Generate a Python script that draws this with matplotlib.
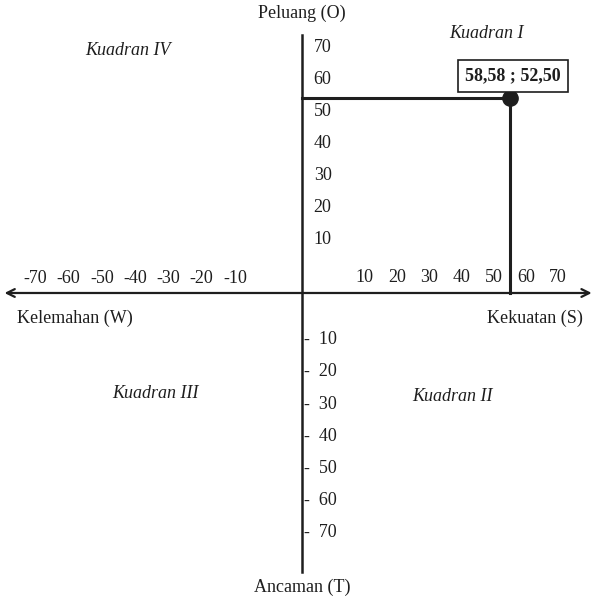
"""
SWOT quadrant diagram (Kuadran I - IV) with the position point.
"""

import matplotlib.pyplot as plt

# ----------------------------- DATA -----------------------------
point_x = 58.58          # Kekuatan - Kelemahan
point_y = 52.50          # Peluang - Ancaman
point_label = "58,58 ; 52,50"

tick_values = [10, 20, 30, 40, 50, 60, 70]
axis_titles = {"top": "Peluang (O)", "bottom": "Ancaman (T)",
               "left": "Kelemahan (W)", "right": "Kekuatan (S)"}
quadrants = ["Kuadran I", "Kuadran II", "Kuadran III", "Kuadran IV"]
# ----------------------------------------------------------------

INK = "#1e1e1e"
plt.rcParams["font.family"] = ["Liberation Serif", "DejaVu Serif"]
plt.rcParams["font.size"] = 13

fig = plt.figure(figsize=(5.93, 6.03), dpi=100)
ax = fig.add_axes([0, 0, 1, 1])
# origin placed where the axes cross in the drawing
ax.set_xlim(-85.07, 81.97)
ax.set_ylim(-83.47, 78.89)
ax.axis("off")

# main axes (horizontal double arrow, vertical line)
arrow = dict(arrowstyle="->", color=INK, lw=1.6, mutation_scale=14,
             shrinkA=0, shrinkB=0)
ax.annotate("", xy=(-83.8, 0), xytext=(0, 0), arrowprops=arrow)
ax.annotate("", xy=(81.6, 0), xytext=(0, 0), arrowprops=arrow)
ax.plot([0, 0], [-75.1, 69.5], color=INK, lw=1.8)

# tick labels: the drawing spaces them by hand, not on the true scale
for v in tick_values:
    ax.text(8.6 + 0.907 * v, 4.3, str(v), ha="center", va="center", color=INK)
    ax.text(0.938 * -v - 9.5, 3.9, f"-{v}", ha="center", va="center", color=INK)
    ax.text(3.3, 14.3 + 0.862 * (v - 10), str(v), ha="left", va="center",
            color=INK)
    ax.text(0.6, -12.65 - 0.862 * (v - 10), f"-  {v}", ha="left",
            va="center", color=INK)

# axis titles
ax.text(0, 75.2, axis_titles["top"], ha="center", va="center", color=INK)
ax.text(0, -79.2, axis_titles["bottom"], ha="center", va="center", color=INK)
ax.text(-64.0, -6.8, axis_titles["left"], ha="center", va="center", color=INK)
ax.text(65.5, -6.8, axis_titles["right"], ha="center", va="center", color=INK)

# quadrant names
ax.text(52.1, 70.0, quadrants[0], ha="center", va="center", style="italic",
        color=INK)
ax.text(42.3, -28.0, quadrants[1], ha="center", va="center", style="italic",
        color=INK)
ax.text(-41.4, -27.0, quadrants[2], ha="center", va="center", style="italic",
        color=INK)
ax.text(-49.0, 65.4, quadrants[3], ha="center", va="center", style="italic",
        color=INK)

# position point with guide lines back to the axes
ax.plot([0, point_x], [point_y, point_y], color=INK, lw=2.2)
ax.plot([point_x, point_x], [0, point_y], color=INK, lw=2.2)
ax.plot(point_x, point_y, "o", color=INK, ms=11)
ax.text(point_x + 0.8, point_y + 5.9, point_label, ha="center", va="center",
        weight="bold", color=INK,
        bbox=dict(boxstyle="square,pad=0.4", fc="white", ec=INK, lw=1.2))

fig.savefig("out.png", dpi=100)
